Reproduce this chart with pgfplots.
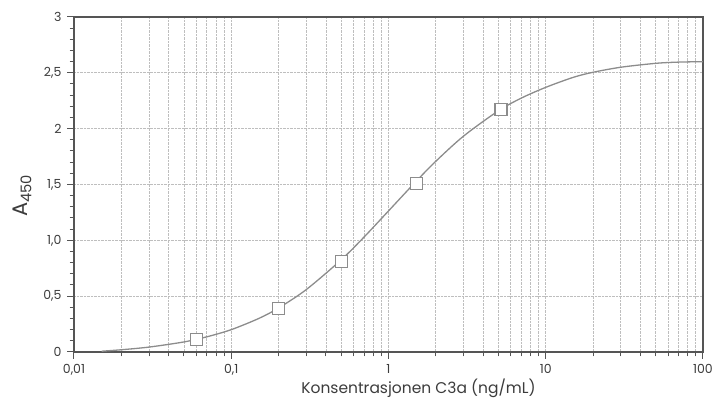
\documentclass[border=0pt]{standalone}
\usepackage{pgfplots}
\pgfplotsset{compat=1.18}
\usepackage{fontspec}
\setmainfont{Poppins}
\definecolor{axisgray}{RGB}{85,85,85}
\definecolor{curvegray}{RGB}{140,140,140}
\definecolor{gridgray}{RGB}{190,190,190}
\definecolor{textgray}{RGB}{60,60,60}
\begin{document}
\begin{tikzpicture}
\begin{axis}[
  scale only axis,
  width=629pt, height=335pt,
  xmode=log,
  xmin=0.01, xmax=100,
  ymin=0, ymax=3,
  log basis x=10,
  xtick={0.01,0.1,1,10,100},
  xticklabels={{0,01},{0,1},1,10,100},
  minor xtick={0.02,0.03,0.04,0.05,0.06,0.07,0.08,0.09,
               0.2,0.3,0.4,0.5,0.6,0.7,0.8,0.9,
               2,3,4,5,6,7,8,9,
               20,30,40,50,60,70,80,90},
  ytick={0,0.5,1,1.5,2,2.5,3},
  yticklabels={0,{0,5},{1,0},{1,5},2,{2,5},3},
  minor ytick={0.1,0.2,0.3,0.4,0.6,0.7,0.8,0.9,1.1,1.2,1.3,1.4,1.6,1.7,1.8,1.9,2.1,2.2,2.3,2.4,2.6,2.7,2.8,2.9},
  tick align=outside,
  tick pos=left,
  major tick length=7pt,
  minor tick length=4.5pt,
  every tick/.style={axisgray, line width=1pt},
  axis line style={axisgray, line width=1.6pt},
  xmajorgrids, xminorgrids, ymajorgrids,
  major grid style={gridgray, densely dotted, line width=0.8pt},
  minor grid style={gridgray, densely dotted, line width=0.8pt},
  ticklabel style={font=\fontsize{12.5}{14}\selectfont, text=textgray},
  xticklabel style={yshift=-2pt},
  yticklabel style={xshift=-2pt},
  xlabel={Konsentrasjonen C3a (ng/mL)},
  xlabel style={font=\fontsize{15.5}{18}\selectfont, text=textgray, yshift=3pt, xshift=30pt},
  ylabel={A\textsubscript{450}},
  ylabel style={font=\fontsize{21}{24}\selectfont, text=textgray, yshift=5pt, xshift=-11pt},
  clip=true,
]
\addplot[curvegray, line width=1.3pt, smooth] coordinates {
  (0.015,0.007) (0.02,0.020) (0.03,0.044) (0.05,0.090) (0.07,0.136)
  (0.1,0.200) (0.15,0.301) (0.2,0.394) (0.3,0.559) (0.5,0.825)
  (0.7,1.030) (1,1.263) (1.5,1.529) (2,1.708) (3,1.933) (5,2.160)
  (7,2.274) (10,2.370) (15,2.460) (20,2.505) (30,2.550) (50,2.585)
  (70,2.596) (100,2.600)
};
\addplot[only marks, mark=square*, mark size=6pt,
  mark options={draw=curvegray, fill=white, line width=1.2pt}] coordinates {
  (0.06,0.11) (0.2,0.39) (0.5,0.81) (1.5,1.51) (5.2,2.17)
};
\end{axis}
\pgfresetboundingbox
\path[use as bounding box] ([xshift=-74pt,yshift=-51pt]current axis.south west)
  rectangle ([xshift=13pt,yshift=17pt]current axis.north east);
\end{tikzpicture}
\end{document}
